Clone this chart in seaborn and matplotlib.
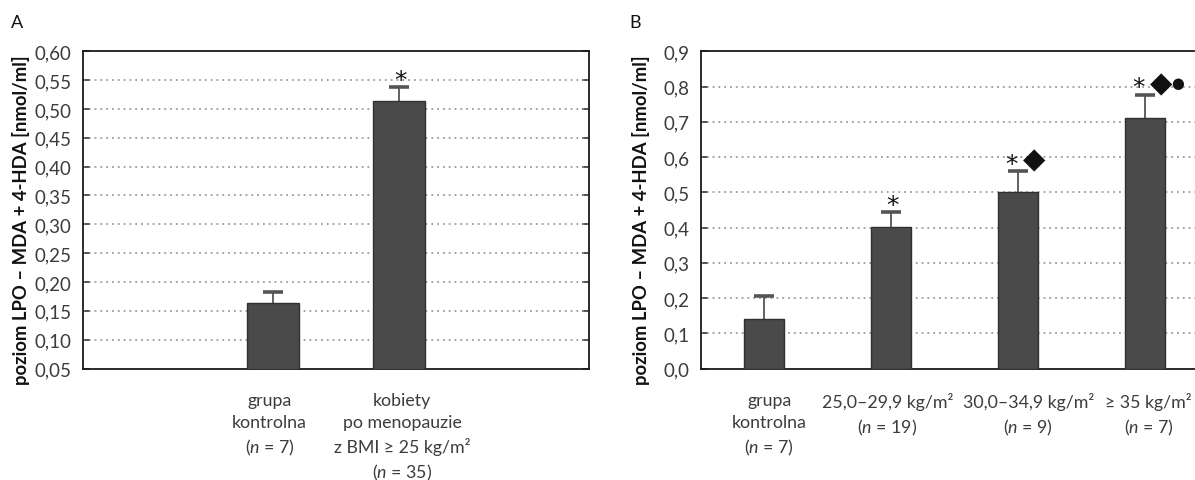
import numpy as np
import matplotlib

matplotlib.use("Agg")
import matplotlib.pyplot as plt
from matplotlib.transforms import ScaledTranslation
import seaborn as sns

# panel A
groups_a = ["grupa\nkontrolna\n($\\it{n}$ = 7)",
            "kobiety\npo menopauzie\nz BMI ≥ 25 kg/m²\n($\\it{n}$ = 35)"]
means_a = [0.163, 0.513]
errs_a = [0.020, 0.025]
marks_a = [[], ["*"]]
yticks_a = [0.05, 0.10, 0.15, 0.20, 0.25, 0.30, 0.35, 0.40, 0.45, 0.50, 0.55, 0.60]

# panel B
groups_b = ["grupa\nkontrolna\n($\\it{n}$ = 7)",
            "25,0–29,9 kg/m²\n($\\it{n}$ = 19)",
            "30,0–34,9 kg/m²\n($\\it{n}$ = 9)",
            "≥ 35 kg/m²\n($\\it{n}$ = 7)"]
means_b = [0.141, 0.402, 0.502, 0.710]
errs_b = [0.066, 0.041, 0.058, 0.067]
marks_b = [[], ["*"], ["*", "◆"], ["*", "◆", "●"]]
yticks_b = [0.0, 0.1, 0.2, 0.3, 0.4, 0.5, 0.6, 0.7, 0.8, 0.9]

ylabel = "poziom LPO – MDA + 4-HDA [nmol/ml]"

sns.set_style("white")
plt.rcParams["font.family"] = ["Lato", "DejaVu Sans"]
plt.rcParams["mathtext.fontset"] = "custom"
plt.rcParams["mathtext.it"] = "Lato:italic"
plt.rcParams["mathtext.rm"] = "Lato"

BAR = "#4a4a4a"
TXT = "#3c3c3c"
# symbol -> (fontsize, baseline lift in pt, gap to next symbol in px)
SYM = {"*": (18, 0.2, 22), "◆": (21, 2.5, 17), "●": (10.6, 5.7, 0)}

fig = plt.figure(figsize=(11.95, 4.81), dpi=100)
ax_a = fig.add_axes([0.0692, 0.2318, 0.4237, 0.6595])
ax_b = fig.add_axes([0.5864, 0.2318, 0.4253, 0.6595])


def draw_panel(ax, groups, means, errs, marks, yticks, width, ndec, label_dx):
    sns.barplot(x=groups, y=means, ax=ax, color=BAR, width=width,
                edgecolor="#303030", linewidth=1.0, saturation=1, zorder=3)
    xs = np.arange(len(groups))
    eb = ax.errorbar(xs, means, yerr=[np.zeros(len(means)), errs], fmt="none",
                     ecolor="#555555", elinewidth=1.3, capsize=7.5, capthick=2.6,
                     zorder=2)
    caps = eb[1]
    caps[0].set_visible(False)
    caps[1].set_color("#111111")
    for x, m, e, syms in zip(xs, means, errs, marks):
        dx = 1 if len(syms) == 1 else -6.5
        for s in syms:
            fs, lift, gap = SYM[s]
            ax.annotate(s, (x, m + e), xytext=(dx * 0.72, lift), textcoords="offset points",
                        ha="center", va="baseline", fontsize=fs, color="#111111",
                        family="DejaVu Sans")
            dx += gap
    ax.set_ylim(yticks[0], yticks[-1])
    ax.set_yticks(yticks)
    ax.set_yticklabels([f"{t:.{ndec}f}".replace(".", ",") for t in yticks])
    for t in yticks[1:-1]:
        ax.axhline(t, color="#8a8a8a", linestyle=(0, (1.2, 2.6)), linewidth=1.1, zorder=1)
    for s in ax.spines.values():
        s.set_visible(True)
        s.set_color("#1a1a1a")
        s.set_linewidth(1.3)
    ax.tick_params(axis="y", which="both", direction="in", length=5, width=1.2,
                   left=True, right=True, color="#333333", labelsize=13.5,
                   labelcolor=TXT, pad=8)
    ax.tick_params(axis="x", length=0, labelsize=12.8, labelcolor=TXT, pad=17)
    ax.set_xlabel("")
    ax.set_ylabel("")
    for lab, d in zip(ax.get_xticklabels(), label_dx):
        lab.set_linespacing(1.45)
        lab.set_transform(lab.get_transform() + ScaledTranslation(d / 100, 0, fig.dpi_scale_trans))


draw_panel(ax_a, groups_a, means_a, errs_a, marks_a, yticks_a, 0.41, 2, [-3, 3])
ax_a.set_xlim(-1.5, 2.5)
draw_panel(ax_b, groups_b, means_b, errs_b, marks_b, yticks_b, 0.315, 1, [5, -4, 10, 3])
ax_b.set_xlim(-0.5, 3.5)

fig.text(0.0176, 0.5426, ylabel, rotation=90, ha="center", va="center",
         fontsize=13.3, fontweight="bold", color="#111111")
fig.text(0.5364, 0.5426, ylabel, rotation=90, ha="center", va="center",
         fontsize=13.3, fontweight="bold", color="#111111")
fig.text(0.009, 0.952, "A", fontsize=13, color="#111111", va="center")
fig.text(0.527, 0.952, "B", fontsize=13, color="#111111", va="center")

fig.savefig("out.png", dpi=100)
plt.close(fig)
